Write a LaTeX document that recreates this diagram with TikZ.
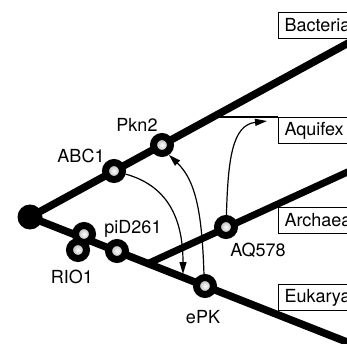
\documentclass[tikz,border=0pt]{standalone}
\usepackage{fontspec}
\setmainfont{TeX Gyre Heros}
\usetikzlibrary{arrows.meta}
\tikzset{
  branch/.style={line width=7.5pt, line cap=round},
  taxbox/.style={draw, line width=1pt, anchor=north west, minimum height=26pt,
    text width=80pt, inner xsep=6pt, inner ysep=0pt, font=\fontsize{18}{20}\selectfont},
  gene/.style={circle, draw=black, line width=7pt, minimum size=17pt, inner sep=0pt,
    inner color=white, outer color=gray!75},
  lbl/.style={font=\fontsize{18}{20}\selectfont, inner sep=0pt},
  arr/.style={line width=1.2pt, -{Triangle[length=12pt,width=7pt]}}
}
\begin{document}
\begin{tikzpicture}[x=1pt,y=-1pt]
\useasboundingbox (0,0) rectangle (347,344);
% branch end points
\coordinate (bend) at (352,41);
\coordinate (eend) at (352,344);
\coordinate (split) at (148,263.5);
\coordinate (aend) at (352,170);
\coordinate (aqj) at (213,117);
% boxes
\node[taxbox] (bact) at (278,12) {Bacteria};
\node[taxbox] (aquifex) at (278,117) {Aquifex};
\node[taxbox] (archaea) at (278,207) {Archaea};
\node[taxbox] (eukarya) at (278,284) {Eukarya};
% root
\node[circle, fill=black, minimum size=25pt, inner sep=0pt] (root) at (30,217) {};
% branches
\draw[branch] (root.center) -- (bend);
\draw[branch] (root.center) -- (eend);
\draw[line width=7pt] (split) -- (aend);
\draw[line width=2pt] (aqj) -- (aquifex.north west);
% genes
\node[gene] (abc1) at (114,171) {};
\node[gene] (pkn2) at (162,145) {};
\node[gene] (rioa) at (84,234) {};
\node[gene] (riob) at (78,250) {};
\node[gene] (pid) at (117,251) {};
\node[gene] (epk) at (205,286) {};
\node[gene] (aq) at (226,227) {};
% labels
\node[lbl] (lpkn2) at (137,125) {Pkn2};
\node[lbl] (labc1) at (81,156) {ABC1};
\node[lbl] (lpid) at (133,229) {piD261};
\node[lbl] (lrio) at (72,277) {RIO1};
\node[lbl] (laq) at (258,250) {AQ578};
\node[lbl] (lepk) at (203,317) {ePK};
% transfers
\coordinate (t1) at (183,274);
\coordinate (t3) at (267,121);
\draw[arr] (abc1.-15) .. controls (165,185) and (183,215) .. (t1);
\draw[arr] (epk.95) .. controls (202,210) and (195,180) .. (pkn2.-55);
\draw[arr] (aq.88) .. controls (228,160) and (232,125) .. (t3);
\end{tikzpicture}
\end{document}
